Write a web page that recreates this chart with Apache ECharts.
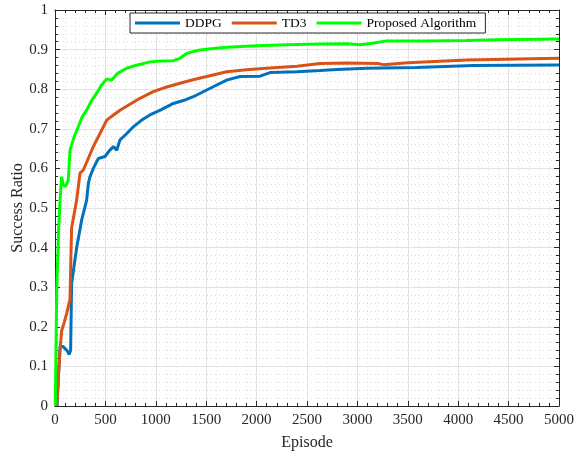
<!DOCTYPE html>
<html><head><meta charset="utf-8">
<script src="https://cdn.jsdelivr.net/npm/echarts@6/dist/echarts.min.js"></script>
<style>html,body{margin:0;padding:0;background:#fff}#c{width:574px;height:454px}</style>
</head><body><div id="c"></div>
<script>
const seriesNames = ['DDPG', 'TD3', 'Proposed Algorithm'];
const ddpgEp = [20, 35, 50, 80, 120, 140, 155, 165, 215, 265, 314, 331, 347, 380, 430, 496, 540, 579, 612, 645, 700, 777, 860, 942, 1050, 1174, 1280, 1372, 1505, 1600, 1703, 1835, 2034, 2133, 2400, 2629, 2800, 3092, 3588, 4150, 5000];
const ddpgVal = [0, 0.08, 0.15, 0.15, 0.14, 0.13, 0.14, 0.31, 0.40, 0.47, 0.52, 0.562, 0.579, 0.60, 0.625, 0.63, 0.645, 0.655, 0.646, 0.672, 0.685, 0.705, 0.722, 0.735, 0.748, 0.764, 0.772, 0.781, 0.798, 0.81, 0.823, 0.832, 0.833, 0.842, 0.844, 0.847, 0.85, 0.853, 0.855, 0.860, 0.861];
const td3Ep = [17, 35, 50, 66, 90, 116, 149, 158, 165, 215, 248, 281, 330, 380, 450, 513, 580, 645, 743, 843, 975, 1100, 1240, 1370, 1505, 1703, 1900, 2166, 2400, 2629, 2900, 3200, 3257, 3500, 4084, 5000];
const td3Val = [0, 0.08, 0.14, 0.19, 0.21, 0.234, 0.27, 0.38, 0.45, 0.52, 0.588, 0.596, 0.625, 0.655, 0.69, 0.722, 0.735, 0.747, 0.762, 0.777, 0.794, 0.805, 0.815, 0.824, 0.832, 0.844, 0.849, 0.854, 0.858, 0.865, 0.866, 0.865, 0.862, 0.867, 0.874, 0.878];
const propEp = [3, 17, 35, 50, 66, 80, 99, 115, 132, 149, 190, 231, 270, 314, 360, 413, 460, 513, 562, 620, 711, 800, 942, 1050, 1174, 1240, 1306, 1372, 1439, 1550, 1703, 2000, 2300, 2629, 2900, 3026, 3150, 3290, 3700, 4084, 4400, 5000];
const propVal = [0, 0.29, 0.44, 0.52, 0.579, 0.56, 0.554, 0.56, 0.571, 0.646, 0.68, 0.705, 0.73, 0.747, 0.77, 0.79, 0.81, 0.826, 0.823, 0.84, 0.853, 0.86, 0.869, 0.871, 0.872, 0.878, 0.89, 0.895, 0.899, 0.902, 0.906, 0.91, 0.912, 0.914, 0.915, 0.912, 0.916, 0.922, 0.922, 0.923, 0.925, 0.927];
const colors = ['#0072BD', '#D95319', '#00FF00'];

const zip = (a, b) => a.map((x, i) => [x, b[i]]);
const font = 'Liberation Serif';
const chart = echarts.init(document.getElementById('c'));
const baseX = {
  type: 'value', min: 0, max: 5000, interval: 500,
  axisLine: { show: true, onZero: false, lineStyle: { color: '#262626', width: 1 } },
  axisTick: { show: true, inside: true, length: 5, lineStyle: { color: '#262626' } },
  minorTick: { show: true, splitNumber: 5, length: 3, lineStyle: { color: '#262626' } }
};
const baseY = {
  type: 'value', min: 0, max: 1, interval: 0.1,
  axisLine: { show: true, onZero: false, lineStyle: { color: '#262626', width: 1 } },
  axisTick: { show: true, inside: true, length: 5, lineStyle: { color: '#262626' } },
  minorTick: { show: true, splitNumber: 5, length: 3, lineStyle: { color: '#262626' } }
};
chart.setOption({
  animation: false,
  backgroundColor: '#fff',
  color: colors,
  grid: { left: 55, right: 15, top: 10, bottom: 48, containLabel: false, outerBoundsMode: 'none' },
  legend: {
    left: 130, top: 13,
    data: seriesNames,
    icon: 'rect', itemWidth: 45, itemHeight: 3, itemGap: 10,
    borderColor: '#262626', borderWidth: 1, padding: [3, 9, 3, 5],
    backgroundColor: '#fff',
    textStyle: { fontFamily: font, fontSize: 13.5, color: '#000' }
  },
  xAxis: [
    Object.assign({}, baseX, {
      position: 'bottom',
      name: 'Episode', nameLocation: 'middle', nameGap: 29, nameMoveOverlap: false,
      nameTextStyle: { fontFamily: font, fontSize: 16, color: '#262626' },
      axisLabel: { fontFamily: font, fontSize: 15, color: '#262626', margin: 7, formatter: v => String(v) },
      splitLine: { show: true, lineStyle: { color: '#e3e3e3', width: 1 } },
      minorSplitLine: { show: true, lineStyle: { color: '#dcdcdc', width: 1, type: [1, 3] } }
    }),
    Object.assign({}, baseX, { position: 'top', axisLabel: { show: false }, splitLine: { show: false } })
  ],
  yAxis: [
    Object.assign({}, baseY, {
      position: 'left',
      name: 'Success Ratio', nameLocation: 'middle', nameGap: 29, nameMoveOverlap: false,
      nameTextStyle: { fontFamily: font, fontSize: 16, color: '#262626' },
      axisLabel: { fontFamily: font, fontSize: 15, color: '#262626', margin: 7 },
      splitLine: { show: true, lineStyle: { color: '#e3e3e3', width: 1 } },
      minorSplitLine: { show: true, lineStyle: { color: '#dcdcdc', width: 1, type: [1, 3] } }
    }),
    Object.assign({}, baseY, { position: 'right', axisLabel: { show: false }, splitLine: { show: false } })
  ],
  series: [
    { name: seriesNames[0], type: 'line', data: zip(ddpgEp, ddpgVal), showSymbol: false, lineStyle: { width: 3, color: colors[0] }, z: 3 },
    { name: seriesNames[1], type: 'line', data: zip(td3Ep, td3Val), showSymbol: false, lineStyle: { width: 3, color: colors[1] }, z: 4 },
    { name: seriesNames[2], type: 'line', data: zip(propEp, propVal), showSymbol: false, lineStyle: { width: 3, color: colors[2] }, z: 5 }
  ]
});
</script></body></html>
